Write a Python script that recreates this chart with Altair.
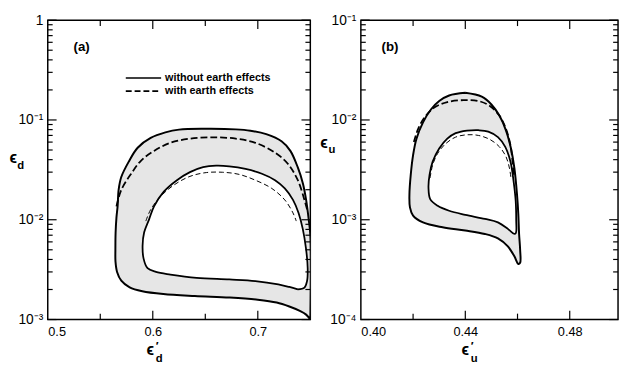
import altair as alt
import pandas as pd
import math

# ---------------- data ----------------
# Panel (a): eps'_d (x) vs eps_d (y)
A_OUT_X = [0.750, 0.746, 0.740, 0.730, 0.718, 0.700, 0.673, 0.640, 0.610, 0.590, 0.578, 0.570,
           0.566, 0.5645, 0.5644, 0.5646, 0.5654, 0.5665, 0.5675, 0.570, 0.577, 0.5856, 0.598,
           0.612, 0.625, 0.650, 0.679, 0.693, 0.708, 0.7226, 0.731, 0.738, 0.743, 0.746, 0.7485,
           0.750, 0.750]
A_OUT_Y = [0.00100, 0.00112, 0.00122, 0.00135, 0.00148, 0.00158, 0.00166, 0.00172, 0.00180,
           0.00192, 0.00210, 0.00245, 0.00300, 0.00380, 0.00500, 0.00740, 0.01050, 0.01360,
           0.0200, 0.0268, 0.0380, 0.0527, 0.0660, 0.0750, 0.0800, 0.0815, 0.0805, 0.0780,
           0.0720, 0.0612, 0.0490, 0.0336, 0.0230, 0.0158, 0.0100, 0.0070, 0.00100]

A_IN_X = [0.7381, 0.7300, 0.7195, 0.6977, 0.6728, 0.6417, 0.6168, 0.6030, 0.5950, 0.5912,
          0.5903, 0.5918, 0.5965, 0.6012, 0.6105, 0.6230, 0.6354, 0.6479, 0.6603, 0.6728,
          0.6883, 0.7039, 0.7164, 0.7257, 0.7335, 0.7388, 0.7428, 0.7459, 0.7475, 0.7469,
          0.7444, 0.7381]
A_IN_Y = [0.00201, 0.00212, 0.00225, 0.00243, 0.00252, 0.00261, 0.00282, 0.00300, 0.00327,
          0.00410, 0.00553, 0.00748, 0.01010, 0.01360, 0.01910, 0.02490, 0.03000, 0.03360,
          0.03480, 0.03430, 0.03230, 0.02890, 0.02490, 0.02060, 0.01580, 0.01170, 0.00810,
          0.00514, 0.00327, 0.00243, 0.00209, 0.00201]

A_DOUT_X = [0.5654, 0.5700, 0.5794, 0.5887, 0.6012, 0.6167, 0.6354, 0.6572, 0.6790, 0.6977,
            0.7164, 0.7288, 0.7381, 0.7444, 0.7469]
A_DOUT_Y = [0.0136, 0.0199, 0.0289, 0.0390, 0.0489, 0.0590, 0.0650, 0.0670, 0.0650, 0.0590,
            0.0470, 0.0362, 0.0249, 0.0158, 0.0127]

A_DIN_X = [0.5934, 0.5981, 0.6074, 0.6199, 0.6354, 0.6510, 0.6666, 0.6821, 0.6977, 0.7133,
           0.7257, 0.7335, 0.7366]
A_DIN_Y = [0.0097, 0.0127, 0.0171, 0.0222, 0.0272, 0.0297, 0.0299, 0.0285, 0.0249, 0.0206,
           0.0158, 0.0117, 0.0097]

# Panel (b): eps'_u (x) vs eps_u (y)
B_OUT_X = [0.4400, 0.4338, 0.4300, 0.4269, 0.4238, 0.4213, 0.4200, 0.4191, 0.4186, 0.4188,
           0.4200, 0.4238, 0.4313, 0.4400, 0.4475, 0.4525, 0.4563, 0.4588, 0.4603, 0.4610,
           0.4610, 0.4606, 0.4603, 0.4598, 0.4588, 0.4575, 0.4556, 0.4531, 0.4500, 0.4463,
           0.4400]
B_OUT_Y = [0.0187, 0.0176, 0.0155, 0.0128, 0.00946, 0.00649, 0.00445, 0.00282, 0.00180,
           0.00133, 0.00110, 0.00094, 0.00084, 0.00078, 0.00072, 0.00065, 0.00054, 0.00043,
           0.00036, 0.00037, 0.00050, 0.00072, 0.00114, 0.00180, 0.00329, 0.00517, 0.00783,
           0.01100, 0.01430, 0.01710, 0.0187]

B_IN_X = [0.4406, 0.4363, 0.4331, 0.4300, 0.4275, 0.4263, 0.4259, 0.4266, 0.4294, 0.4338,
          0.4400, 0.4475, 0.4525, 0.4563, 0.4588, 0.4594, 0.4595, 0.4593, 0.4585, 0.4573,
          0.4553, 0.4525, 0.4488, 0.4450, 0.4406]
B_IN_Y = [0.00783, 0.00737, 0.00649, 0.00517, 0.00382, 0.00282, 0.00209, 0.00160, 0.00138,
          0.00123, 0.00112, 0.00102, 0.00094, 0.00081, 0.00072, 0.00074, 0.00098, 0.00154,
          0.00243, 0.00382, 0.00537, 0.00673, 0.00765, 0.00789, 0.00783]

B_DOUT_X = [0.4203, 0.4219, 0.4244, 0.4281, 0.4331, 0.4394, 0.4450, 0.4494, 0.4531, 0.4556,
            0.4573, 0.4581, 0.4585]
B_DOUT_Y = [0.0060, 0.0081, 0.0106, 0.0133, 0.0151, 0.0158, 0.0155, 0.0138, 0.0110, 0.0081,
            0.00557, 0.00382, 0.00282]

B_DIN_X = [0.4265, 0.4275, 0.4294, 0.4325, 0.4363, 0.4406, 0.4450, 0.4494, 0.4531, 0.4556,
           0.4569, 0.4575]
B_DIN_Y = [0.00262, 0.00354, 0.00461, 0.00579, 0.00673, 0.0071, 0.0070, 0.00638, 0.00537,
           0.00428, 0.00329, 0.00262]

# axes
A_XDOM = [0.5, 0.75]
A_YDOM = [0.001, 1.0]
A_XLAB = [0.5, 0.6, 0.7]
A_XMAJ = [0.6, 0.7]
A_XMIN = [0.55, 0.65]
A_YLAB_V = [0.001, 0.01, 0.1, 1.0]
A_YLAB_T = ["10⁻³", "10⁻²", "10⁻¹", "1\u00a0\u00a0\u00a0"]

B_XDOM = [0.40, 0.4985]
B_YDOM = [0.0001, 0.1]
B_XLAB = [0.40, 0.44, 0.48]
B_XMAJ = [0.44, 0.48]
B_XMIN = [0.42, 0.46]
B_YLAB_V = [0.0001, 0.001, 0.01, 0.1]
B_YLAB_T = ["10⁻⁴", "10⁻³", "10⁻²", "10⁻¹"]

LEGEND_LABELS = ["without earth effects", "with earth effects"]
PANEL_LABELS = ["(a)", "(b)"]

FONT = "Liberation Sans"
FILL = "#e6e6e6"
H = 305


def curve(xs, ys):
    return pd.DataFrame({"x": xs, "y": ys, "i": list(range(len(xs)))})


def decade_minors(lo_exp, hi_exp):
    vals = []
    for e in range(lo_exp, hi_exp):
        for m in range(2, 10):
            vals.append(m * 10.0 ** e)
    return vals


def label_expr(vals, texts):
    expr = "''"
    for v, t in zip(vals, texts):
        expr = f"abs(datum.value - {v}) < {v} * 0.01 ? '{t}' : " + expr
    return expr


def panel(xdom, ydom, W, xlab, xfmt, xmaj, xmin, ylv, ylt, curves, texts):
    xs = alt.Scale(domain=xdom, nice=False, zero=False)
    ys = alt.Scale(type="log", domain=ydom, nice=False)
    one = pd.DataFrame({"k": [0]})

    out, inn, dout, din = curves
    X = lambda f="x": alt.X(f"{f}:Q", scale=xs)
    Y = lambda f="y": alt.Y(f"{f}:Q", scale=ys)

    layers = []
    # axes (labels only)
    layers.append(
        alt.Chart(curve(*out)).mark_point(opacity=0).encode(
            x=alt.X("x:Q", scale=xs, axis=alt.Axis(
                values=xlab, format=xfmt, labelFlush=True, tickSize=0, ticks=False,
                domain=False, grid=False, title=None, labelPadding=6, labelFontSize=13,
                labelFont=FONT, labelColor="black")),
            y=alt.Y("y:Q", scale=ys, axis=alt.Axis(
                values=ylv, labelExpr=label_expr(ylv, ylt), tickSize=0, ticks=False,
                domain=False, grid=False, title=None, labelPadding=5, labelFontSize=14,
                labelFont=FONT, labelColor="black", labelFlush=False)),
        )
    )
    # shaded band: outer filled grey, inner filled white
    layers.append(alt.Chart(curve(*out)).mark_line(
        fill=FILL, stroke="black", strokeWidth=2.0, interpolate="catmull-rom", clip=True
    ).encode(x=X(), y=Y(), order="i:Q"))
    layers.append(alt.Chart(curve(*inn)).mark_line(
        fill="white", stroke="black", strokeWidth=1.8, interpolate="catmull-rom", clip=True
    ).encode(x=X(), y=Y(), order="i:Q"))
    layers.append(alt.Chart(curve(*dout)).mark_line(
        stroke="black", strokeWidth=1.8, strokeDash=[7, 3], interpolate="catmull-rom", clip=True
    ).encode(x=X(), y=Y(), order="i:Q"))
    layers.append(alt.Chart(curve(*din)).mark_line(
        stroke="black", strokeWidth=1.0, strokeDash=[5, 3], interpolate="catmull-rom", clip=True
    ).encode(x=X(), y=Y(), order="i:Q"))

    # inward ticks
    ymaj = pd.DataFrame({"y": ylv})
    ymin = pd.DataFrame({"y": decade_minors(int(round(math.log10(ydom[0]))),
                                            int(round(math.log10(ydom[1]))))})
    for df, L in ((ymaj, 9), (ymin, 5)):
        layers.append(alt.Chart(df).mark_rule(color="black", strokeWidth=1.2).encode(
            y=Y(), x=alt.value(0), x2=alt.value(L)))
        layers.append(alt.Chart(df).mark_rule(color="black", strokeWidth=1.2).encode(
            y=Y(), x=alt.value(W), x2=alt.value(W - L)))
    for vals, L in ((xmaj, 9), (xmin, 6)):
        df = pd.DataFrame({"x": vals})
        layers.append(alt.Chart(df).mark_rule(color="black", strokeWidth=1.2).encode(
            x=X(), y=alt.value(H), y2=alt.value(H - L)))
        layers.append(alt.Chart(df).mark_rule(color="black", strokeWidth=1.2).encode(
            x=X(), y=alt.value(0), y2=alt.value(L)))

    # texts (positions in pixels)
    for t in texts:
        kind = t[0]
        if kind == "text":
            _, s, x, y, size, align, base = t
            layers.append(alt.Chart(one).mark_text(
                text=s, font=FONT, fontSize=size, fontWeight="bold", align=align,
                baseline=base, color="black").encode(x=alt.value(x), y=alt.value(y)))
        else:
            _, x1, x2, y, dash = t
            m = dict(color="black", strokeWidth=1.6)
            if dash:
                m["strokeDash"] = dash
            layers.append(alt.Chart(one).mark_rule(**m).encode(
                x=alt.value(x1), x2=alt.value(x2), y=alt.value(y)))

    return alt.layer(*layers).properties(width=W, height=H)


WA = 267.5
WB = 262
textsA = [
    ("text", PANEL_LABELS[0], 34.5, 27, 13.5, "center", "middle"),
    ("rule", 79.5, 115.5, 59, None),
    ("rule", 79.5, 115.5, 72.3, [6, 3]),
    ("text", LEGEND_LABELS[0], 119.5, 59, 11, "left", "middle"),
    ("text", LEGEND_LABELS[1], 119.5, 72.3, 11, "left", "middle"),
    ("text", "ϵ", -39, 146, 16, "left", "alphabetic"),
    ("text", "d", -31, 152, 11.5, "left", "alphabetic"),
    ("text", "ϵ", 100.5, 341.5, 16, "left", "alphabetic"),
    ("text", "′", 110, 336, 12, "left", "alphabetic"),
    ("text", "d", 110, 348.5, 11.5, "left", "alphabetic"),
]
textsB = [
    ("text", PANEL_LABELS[1], 29.7, 27, 13.5, "center", "middle"),
    ("text", "ϵ", -41.5, 130, 16, "left", "alphabetic"),
    ("text", "u", -33, 135.5, 11.5, "left", "alphabetic"),
    ("text", "ϵ", 102.5, 341.5, 16, "left", "alphabetic"),
    ("text", "′", 112, 336, 12, "left", "alphabetic"),
    ("text", "u", 112, 348.5, 11.5, "left", "alphabetic"),
]

pa = panel(A_XDOM, A_YDOM, WA, A_XLAB, ".1f", A_XMAJ, A_XMIN, A_YLAB_V, A_YLAB_T,
           [(A_OUT_X, A_OUT_Y), (A_IN_X, A_IN_Y), (A_DOUT_X, A_DOUT_Y), (A_DIN_X, A_DIN_Y)],
           textsA)
pb = panel(B_XDOM, B_YDOM, WB, B_XLAB, ".2f", B_XMAJ, B_XMIN, B_YLAB_V, B_YLAB_T,
           [(B_OUT_X, B_OUT_Y), (B_IN_X, B_IN_Y), (B_DOUT_X, B_DOUT_Y), (B_DIN_X, B_DIN_Y)],
           textsB)

chart = alt.hconcat(pa, pb, spacing=51, bounds="flush").properties(
    padding={"left": 0.5, "top": 1, "right": 0, "bottom": 0},
    background="white",
).configure_view(stroke="black", strokeWidth=1.5)

chart.save("out.html", embed_options={"renderer": "svg", "actions": False})
